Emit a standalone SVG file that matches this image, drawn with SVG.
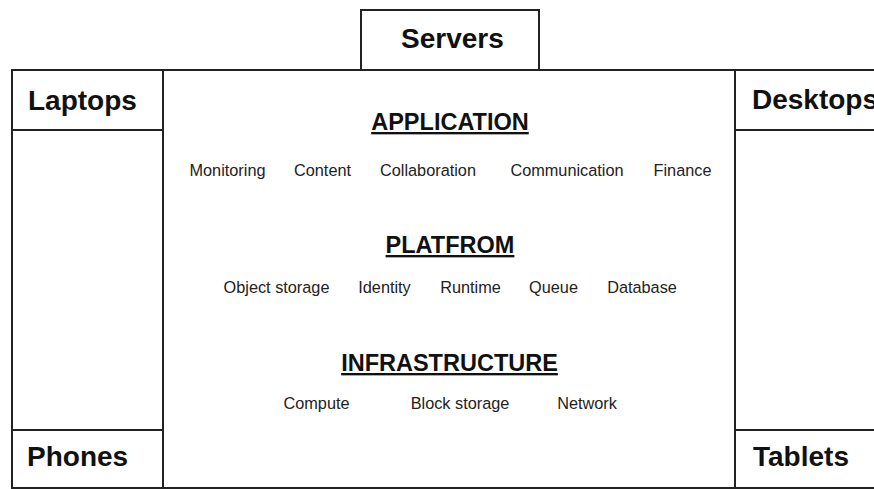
<svg xmlns="http://www.w3.org/2000/svg" width="874" height="489" viewBox="0 0 874 489">
<style>
.box{fill:#fff;stroke:#222;stroke-width:2}
.big{font-family:"Liberation Sans",Arial,sans-serif;font-weight:bold;font-size:28px;fill:#111}
.head{font-family:"Liberation Sans",Arial,sans-serif;font-weight:bold;font-size:23.5px;fill:#111;text-anchor:middle;text-decoration:underline}
.item{font-family:"Liberation Sans",Arial,sans-serif;font-size:16.3px;fill:#222;text-anchor:middle}
</style>
<rect width="874" height="489" fill="#fff"/>
<g id="cloud">
<rect class="box" x="163" y="70" width="572" height="418"/>
<text class="head" x="450" y="130">APPLICATION</text>
<text class="item" x="227.5" y="176">Monitoring</text>
<text class="item" x="322.5" y="176">Content</text>
<text class="item" x="428" y="176">Collaboration</text>
<text class="item" x="567" y="176">Communication</text>
<text class="item" x="682.5" y="176">Finance</text>
<text class="head" x="450" y="253">PLATFROM</text>
<text class="item" x="276.5" y="293">Object storage</text>
<text class="item" x="384.5" y="293">Identity</text>
<text class="item" x="470.5" y="293">Runtime</text>
<text class="item" x="553.5" y="293">Queue</text>
<text class="item" x="642" y="293">Database</text>
<text class="head" x="449.5" y="371">INFRASTRUCTURE</text>
<text class="item" x="316.5" y="409">Compute</text>
<text class="item" x="460" y="409">Block storage</text>
<text class="item" x="587" y="409">Network</text>
</g>
<g id="left-side">
<rect class="box" x="12" y="70" width="151" height="418"/>
</g>
<g id="right-side">
<rect class="box" x="735" y="70" width="150" height="418"/>
</g>
<g id="servers">
<rect class="box" x="361" y="10" width="178" height="60"/>
<text class="big" x="401" y="48">Servers</text>
</g>
<g id="laptops">
<rect class="box" x="12" y="70" width="151" height="60"/>
<text class="big" x="28" y="110">Laptops</text>
</g>
<g id="desktops">
<rect class="box" x="735" y="70" width="150" height="60"/>
<text class="big" x="752" y="109">Desktops</text>
</g>
<g id="phones">
<rect class="box" x="12" y="430" width="151" height="58"/>
<text class="big" x="27" y="466">Phones</text>
</g>
<g id="tablets">
<rect class="box" x="735" y="430" width="150" height="58"/>
<text class="big" x="753" y="466">Tablets</text>
</g>
<g id="connectors"/>
</svg>
